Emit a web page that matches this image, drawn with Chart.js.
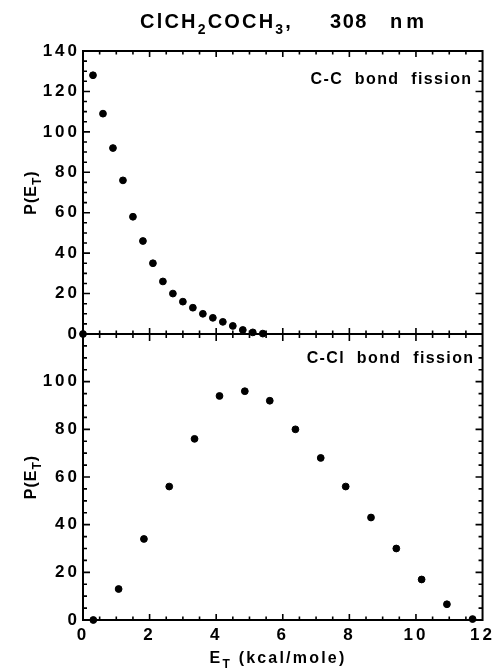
<!DOCTYPE html>
<html>
<head>
<meta charset="utf-8">
<script src="https://cdn.jsdelivr.net/npm/chart.js@4"></script>
<style>
  html, body { margin: 0; padding: 0; background: #fff; }
  #box { position: relative; width: 497px; height: 669px; }
</style>
</head>
<body>
<div id="box"><canvas id="chart" width="497" height="669"></canvas></div>
<script>
// C-C bond fission, P(E_T) vs E_T
const ccEnergy = [0, 0.3, 0.6, 0.9, 1.2, 1.5, 1.8, 2.1, 2.4, 2.7, 3.0, 3.3, 3.6, 3.9, 4.2, 4.5, 4.8, 5.1, 5.4];
const ccProb = [0, 128, 109, 92, 76, 58, 46, 35, 26, 20, 16, 13, 10, 8, 6, 4, 2, 0.8, 0.2];

// C-Cl bond fission
const cclEnergy = [0.31, 1.07, 1.83, 2.59, 3.35, 4.10, 4.86, 5.61, 6.38, 7.14, 7.89, 8.65, 9.41, 10.17, 10.93, 11.70];
const cclProb = [0, 13, 34, 56, 76, 94, 96, 92, 80, 68, 56, 43, 30, 17, 6.6, 0.4];

const xTicks = [0, 2, 4, 6, 8, 10, 12];
const topTicks = [0, 20, 40, 60, 80, 100, 120, 140];
const botTicks = [0, 20, 40, 60, 80, 100];

const FONT = 'Arial, "Liberation Sans", Helvetica, sans-serif';
const tickFont = { family: FONT, size: 17, weight: 'bold' };

function toPoints(xs, ys) {
    return xs.map((x, i) => ({ x: x, y: ys[i] }));
}

// text with subscripts, parts = [[text, isSub], ...]
function richText(ctx, parts, x, y, size, align, spacing) {
    const fnt = s => 'bold ' + s + 'px ' + FONT;
    ctx.letterSpacing = spacing + 'px';
    let total = 0;
    const widths = parts.map(p => {
        ctx.font = fnt(p[1] ? Math.round(size * 0.72) : size);
        const w = ctx.measureText(p[0]).width;
        total += w;
        return w;
    });
    let cx = align === 'center' ? x - total / 2 : (align === 'right' ? x - total : x);
    ctx.textAlign = 'left';
    ctx.textBaseline = 'alphabetic';
    parts.forEach((p, i) => {
        ctx.font = fnt(p[1] ? Math.round(size * 0.72) : size);
        ctx.fillText(p[0], cx, y + (p[1] ? size * 0.32 : 0));
        cx += widths[i];
    });
}

const spacing = {
    id: 'spacing',
    beforeDraw(chart) { chart.ctx.letterSpacing = '3px'; }
};

const frame = {
    id: 'frame',
    afterDraw(chart) {
        const ctx = chart.ctx;
        const a = chart.chartArea;
        const xs = chart.scales.x;
        const yt = chart.scales.yTop;
        const yb = chart.scales.yBot;
        const mid = yt.bottom;
        ctx.save();
        ctx.strokeStyle = '#000';
        ctx.fillStyle = '#000';
        ctx.lineWidth = 2;
        ctx.strokeRect(a.left, a.top, a.right - a.left, a.bottom - a.top);
        ctx.beginPath();
        ctx.moveTo(a.left, mid);
        ctx.lineTo(a.right, mid);
        ctx.stroke();

        ctx.lineWidth = 1.6;
        ctx.beginPath();
        // x ticks every 0.5
        for (let v = 0.5; v < 12; v += 0.5) {
            const px = xs.getPixelForValue(v);
            const major = v % 2 === 0;
            const l = major ? 6 : 3.5;
            ctx.moveTo(px, a.top); ctx.lineTo(px, a.top + l);
            ctx.moveTo(px, a.bottom); ctx.lineTo(px, a.bottom - l);
            ctx.moveTo(px, mid - (major ? 6 : 3.5)); ctx.lineTo(px, mid + (major ? 7 : 4));
        }
        // y ticks every 5
        [[yt, 140], [yb, 120]].forEach(([s, max]) => {
            for (let v = 5; v < max; v += 5) {
                const py = s.getPixelForValue(v);
                const l = v % 20 === 0 ? 7 : 4;
                ctx.moveTo(a.left, py); ctx.lineTo(a.left + l, py);
                ctx.moveTo(a.right, py); ctx.lineTo(a.right - l, py);
            }
        });
        ctx.stroke();

        // titles and labels
        richText(ctx, [['ClCH', 0], ['2', 1], ['COCH', 0], ['3', 1], [',', 0]], 140, 28, 20, 'left', 2.2);
        richText(ctx, [['308', 0]], 349, 28, 20, 'center', 1.5);
        richText(ctx, [['nm', 0]], 390, 28, 20, 'left', 4);

        richText(ctx, [['C-C  bond  fission', 0]], a.right - 10, 84, 16, 'right', 1.4);
        richText(ctx, [['C-Cl  bond  fission', 0]], a.right - 8, 363, 16, 'right', 1.4);

        richText(ctx, [['E', 0], ['T', 1], [' (kcal/mole)', 0]], 278, 663, 16, 'center', 2.2);

        [yt, yb].forEach(s => {
            ctx.save();
            ctx.translate(36, (s.top + s.bottom) / 2);
            ctx.rotate(-Math.PI / 2);
            richText(ctx, [['P(E', 0], ['T', 1], [')', 0]], 0, 0, 16, 'center', 1);
            ctx.restore();
        });
        ctx.restore();
    }
};

function yScale(max, ticks, weight) {
    return {
        type: 'linear',
        position: 'left',
        stack: 'panels',
        stackWeight: weight,
        min: 0,
        max: max,
        afterBuildTicks: s => { s.ticks = ticks.map(v => ({ value: v })); },
        afterFit: s => { s.width = 83; },
        grid: { display: false, drawTicks: false },
        border: { display: false },
        ticks: { color: '#000', font: tickFont, padding: 3, autoSkip: false }
    };
}

new Chart(document.getElementById('chart').getContext('2d'), {
    type: 'scatter',
    data: {
        datasets: [
            {
                label: 'C-C bond fission',
                data: toPoints(ccEnergy, ccProb),
                yAxisID: 'yTop',
                backgroundColor: '#000',
                borderColor: '#000',
                pointRadius: 3.4,
                clip: false
            },
            {
                label: 'C-Cl bond fission',
                data: toPoints(cclEnergy, cclProb),
                yAxisID: 'yBot',
                backgroundColor: '#000',
                borderColor: '#000',
                pointRadius: 3.4,
                clip: false
            }
        ]
    },
    options: {
        responsive: false,
        animation: false,
        layout: { padding: { left: 0, top: 51, right: 12, bottom: 0 } },
        plugins: {
            legend: { display: false },
            tooltip: { enabled: false }
        },
        scales: {
            x: {
                type: 'linear',
                min: 0,
                max: 12,
                afterBuildTicks: s => { s.ticks = xTicks.map(v => ({ value: v })); },
                afterFit: s => { s.height = 49; },
                grid: { display: false, drawTicks: false },
                border: { display: false },
                ticks: { color: '#000', font: tickFont, padding: 5, maxRotation: 0, autoSkip: false }
            },
            yBot: yScale(120, botTicks, 286),
            yTop: yScale(140, topTicks, 283)
        }
    },
    plugins: [spacing, frame]
});
</script>
</body>
</html>
